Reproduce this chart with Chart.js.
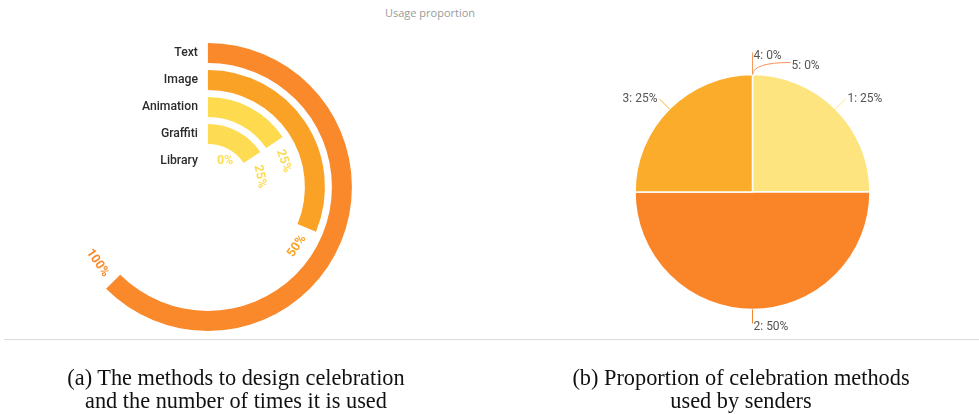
<!DOCTYPE html>
<html>
<head>
<meta charset="utf-8">
<script src="https://cdn.jsdelivr.net/npm/chart.js@4.4.1/dist/chart.umd.min.js"></script>
<style>
  html,body{margin:0;padding:0;background:#fff;width:979px;height:414px;overflow:hidden;position:relative;}
  #title{position:absolute;left:330px;width:200px;top:5px;text-align:center;font:11px "Open Sans",sans-serif;color:#9a9a9a;}
  #c1{position:absolute;left:0;top:0;}
  #c2{position:absolute;left:527px;top:0;}
  #rule{position:absolute;left:4px;right:0;top:339px;height:1px;background:#dcdcdc;}
  .cap{position:absolute;top:366px;font:24px "Liberation Serif","Times New Roman",serif;color:#111;text-align:center;line-height:23px;transform:scaleX(0.93);transform-origin:50% 0;white-space:nowrap;}
  #capa{left:36px;width:400px;}
  #capb{left:541px;width:400px;}
</style>
</head>
<body>
<div id="title">Usage proportion</div>
<canvas id="c1" width="458" height="374"></canvas>
<canvas id="c2" width="451" height="384"></canvas>
<div id="rule"></div>
<div class="cap" id="capa">(a) The methods to design celebration<br>and the number of times it is used</div>
<div class="cap" id="capb">(b) Proportion of celebration methods<br>used by senders</div>
<script>
// ---------- data ----------
const methods = ['Text', 'Image', 'Animation', 'Graffiti', 'Library'];
const usagePercent = [100, 50, 25, 25, 0];
const methodColors = ['#F9892A', '#FAA226', '#FDDA4E', '#FDDB52', '#FDE050'];
const scaleMax = 100;

const pieLabels = ['1', '2', '3', '4', '5'];
const pieValues = [25, 50, 25, 0, 0];
const pieColors = ['#FDE47E', '#FA8428', '#FBAC2A', '#F59A5A', '#F5935A'];

// ---------- left: radial bars ----------
const ringDatasets = [];
methods.forEach((m, i) => {
  if (i > 0) ringDatasets.push({data: [1], backgroundColor: ['rgba(0,0,0,0)'], weight: 0.35, spacer: true});
  ringDatasets.push({
    label: m,
    data: [usagePercent[i], scaleMax - usagePercent[i]],
    backgroundColor: [methodColors[i], 'rgba(0,0,0,0)'],
    weight: 1
  });
});

const radialLabels = {
  id: 'radialLabels',
  afterDatasetsDraw(chart) {
    const ctx = chart.ctx;
    chart.data.datasets.forEach((ds, di) => {
      if (ds.spacer) return;
      const arc = chart.getDatasetMeta(di).data[0];
      const {x, y, innerRadius, outerRadius, endAngle} = arc.getProps(['x','y','innerRadius','outerRadius','endAngle'], true);
      const rc = (innerRadius + outerRadius) / 2;
      const idx = methods.indexOf(ds.label);
      // category label
      ctx.save();
      ctx.font = '500 12.2px Roboto, sans-serif';
      ctx.fillStyle = '#2b2b2b';
      ctx.textAlign = 'right';
      ctx.textBaseline = 'middle';
      ctx.fillText(ds.label, x - 10, y - rc);
      // value label
      const txt = ds.data[0] + '%';
      ctx.font = 'bold 12.5px Roboto, sans-serif';
      ctx.fillStyle = methodColors[idx];
      const w = ctx.measureText(txt).width;
      if (ds.data[0] === 0) {
        ctx.textAlign = 'left';
        ctx.fillText(txt, x + 9, y - rc);
      } else {
        const th = endAngle + (w / 2 + 9) / rc;
        const px = x + rc * Math.cos(th), py = y + rc * Math.sin(th);
        let rot = th - Math.PI / 2;
        while (rot > Math.PI) rot -= 2 * Math.PI;
        while (rot < -Math.PI) rot += 2 * Math.PI;
        if (rot > Math.PI / 2 || rot < -Math.PI / 2) rot += Math.PI;
        ctx.translate(px, py);
        ctx.rotate(rot);
        ctx.textAlign = 'center';
        ctx.fillText(txt, 0, 0);
      }
      ctx.restore();
    });
  }
};

new Chart(document.getElementById('c1'), {
  type: 'doughnut',
  data: {labels: ['value', 'rest'], datasets: ringDatasets},
  options: {
    responsive: false,
    animation: false,
    rotation: 0,
    circumference: 225,
    radius: 144,
    cutout: '11.1%',
    borderWidth: 0,
    plugins: {legend: {display: false}, tooltip: {enabled: false}}
  },
  plugins: [radialLabels]
});

// ---------- right: pie ----------
const pieLabelPlugin = {
  id: 'pieLabelPlugin',
  afterDatasetsDraw(chart) {
    const ctx = chart.ctx;
    const meta = chart.getDatasetMeta(0);
    const placed = [];
    ctx.save();
    ctx.font = '12px Roboto, sans-serif';
    ctx.textBaseline = 'middle';
    meta.data.forEach((arc, i) => {
      const {x, y, outerRadius, startAngle, endAngle} = arc.getProps(['x','y','outerRadius','startAngle','endAngle'], true);
      const mid = (startAngle + endAngle) / 2;
      const c = Math.cos(mid), s = Math.sin(mid);
      const zero = pieValues[i] === 0;
      const len = zero ? 22 : 14;
      const p0 = {x: x + outerRadius * c, y: y + outerRadius * s};
      let p1 = {x: x + (outerRadius + len) * c, y: y + (outerRadius + len) * s};
      const txt = pieLabels[i] + ': ' + pieValues[i] + '%';
      const w = ctx.measureText(txt).width;
      const right = c >= -1e-6;
      const vertical = Math.abs(s) > 0.95;
      let ty = p1.y + (vertical ? 3 : 0);
      let box = right ? {l: p1.x, r: p1.x + w, y: ty} : {l: p1.x - w, r: p1.x, y: ty};
      let shifted = false;
      placed.forEach(b => {
        if (Math.abs(b.y - box.y) < 10 && box.l < b.r && box.r > b.l) shifted = true;
      });
      ctx.strokeStyle = pieColors[i];
      ctx.lineWidth = 1;
      ctx.beginPath();
      ctx.moveTo(p0.x, p0.y);
      if (shifted) {
        ty = ty + 10;
        const tx = p0.x + 38;
        ctx.quadraticCurveTo(p0.x + 1, ty - 3, tx, ty - 3);
        p1 = {x: tx, y: ty};
        box = {l: tx, r: tx + w, y: ty};
      } else {
        ctx.lineTo(p1.x, p1.y);
      }
      ctx.stroke();
      placed.push(box);
      ctx.fillStyle = '#555';
      ctx.textAlign = right ? 'left' : 'right';
      ctx.fillText(txt, right ? p1.x + (vertical ? 1 : 2) : p1.x - 2, ty);
    });
    ctx.restore();
  }
};

new Chart(document.getElementById('c2'), {
  type: 'pie',
  data: {
    labels: pieLabels,
    datasets: [{data: pieValues, backgroundColor: pieColors, borderColor: '#ffffff', borderWidth: 1.5}]
  },
  options: {
    responsive: false,
    animation: false,
    radius: 117.5,
    plugins: {legend: {display: false}, tooltip: {enabled: false}}
  },
  plugins: [pieLabelPlugin]
});
</script>
</body>
</html>
